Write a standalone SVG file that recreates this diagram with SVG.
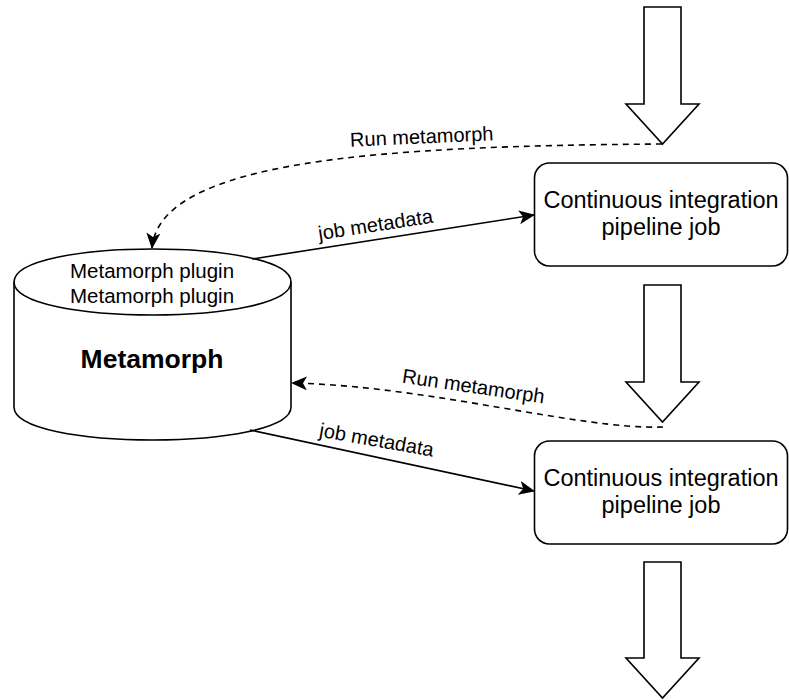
<svg xmlns="http://www.w3.org/2000/svg" width="789" height="700" viewBox="0 0 789 700">
  <style>
    .shape { fill: #ffffff; stroke: #000000; stroke-width: 1.6; }
    .txt { font-family: "Liberation Sans", Arial, Helvetica, sans-serif; fill: #000000; }
    .body { font-size: 20.5px; }
    .title { font-size: 26.5px; font-weight: bold; }
    .job { font-size: 23.5px; }
    .lbl { font-size: 20px; }
    .edge { fill: none; stroke: #000000; stroke-width: 1.6; }
    .dash { stroke-dasharray: 6 5; }
  </style>
  <defs>
    <marker id="arrow" markerUnits="userSpaceOnUse" markerWidth="16" markerHeight="14" viewBox="0 0 16 14" refX="15" refY="7" orient="auto">
      <path d="M0,0 L16,7 L0,14 L4,7 Z" fill="#000000"/>
    </marker>
  </defs>

  <rect x="0" y="0" width="789" height="700" fill="#ffffff"/>

  <!-- flow arrows between pipeline stages -->
  <g id="flow-in">
    <polygon class="shape" points="644,7 681,7 681,104 699,104 662.5,144 626,104 644,104"/>
  </g>
  <g id="flow-mid">
    <polygon class="shape" points="644,285 681,285 681,382 699,382 662.5,422 626,382 644,382"/>
  </g>
  <g id="flow-out">
    <polygon class="shape" points="644,562 681,562 681,658 699,658 662.5,698 626,658 644,658"/>
  </g>

  <!-- Metamorph store -->
  <g id="metamorph">
    <path class="shape" d="M14,282 C14,238 291,238 291,282 L291,407 C291,451 14,451 14,407 Z"/>
    <path class="edge" d="M14,282 C14,326 291,326 291,282"/>
    <text class="txt body" x="152" y="278.3" text-anchor="middle">Metamorph plugin</text>
    <text class="txt body" x="152" y="303.3" text-anchor="middle">Metamorph plugin</text>
    <text class="txt title" x="152" y="368" text-anchor="middle">Metamorph</text>
  </g>

  <!-- CI jobs -->
  <g id="ci-job-1">
    <rect class="shape" x="534.5" y="163" width="253" height="103" rx="15" ry="15"/>
    <text class="txt job" x="661" y="208" text-anchor="middle">Continuous integration</text>
    <text class="txt job" x="661" y="235" text-anchor="middle">pipeline job</text>
  </g>
  <g id="ci-job-2">
    <rect class="shape" x="534.5" y="441" width="253" height="103" rx="15" ry="15"/>
    <text class="txt job" x="661" y="486" text-anchor="middle">Continuous integration</text>
    <text class="txt job" x="661" y="513" text-anchor="middle">pipeline job</text>
  </g>

  <!-- connectors -->
  <g id="connectors">
    <path class="edge dash" d="M662,144 C380,146 160,160 152,248" marker-end="url(#arrow)"/>
    <path class="edge" d="M252,259 L534,215" marker-end="url(#arrow)"/>
    <path class="edge dash" d="M663,427 C580,430 430,386 292,383" marker-end="url(#arrow)"/>
    <path class="edge" d="M250,430 L534,491" marker-end="url(#arrow)"/>

    <text class="txt lbl" x="422" y="143.4" text-anchor="middle" transform="rotate(-2.6 422 143.4)">Run metamorph</text>
    <text class="txt lbl" x="376.5" y="231.4" text-anchor="middle" transform="rotate(-8.7 376.5 231.4)">job metadata</text>
    <text class="txt lbl" x="472.5" y="393" text-anchor="middle" transform="rotate(8.4 472.5 393)">Run metamorph</text>
    <text class="txt lbl" x="375.5" y="446.6" text-anchor="middle" transform="rotate(10 375.5 446.6)">job metadata</text>
  </g>
</svg>
